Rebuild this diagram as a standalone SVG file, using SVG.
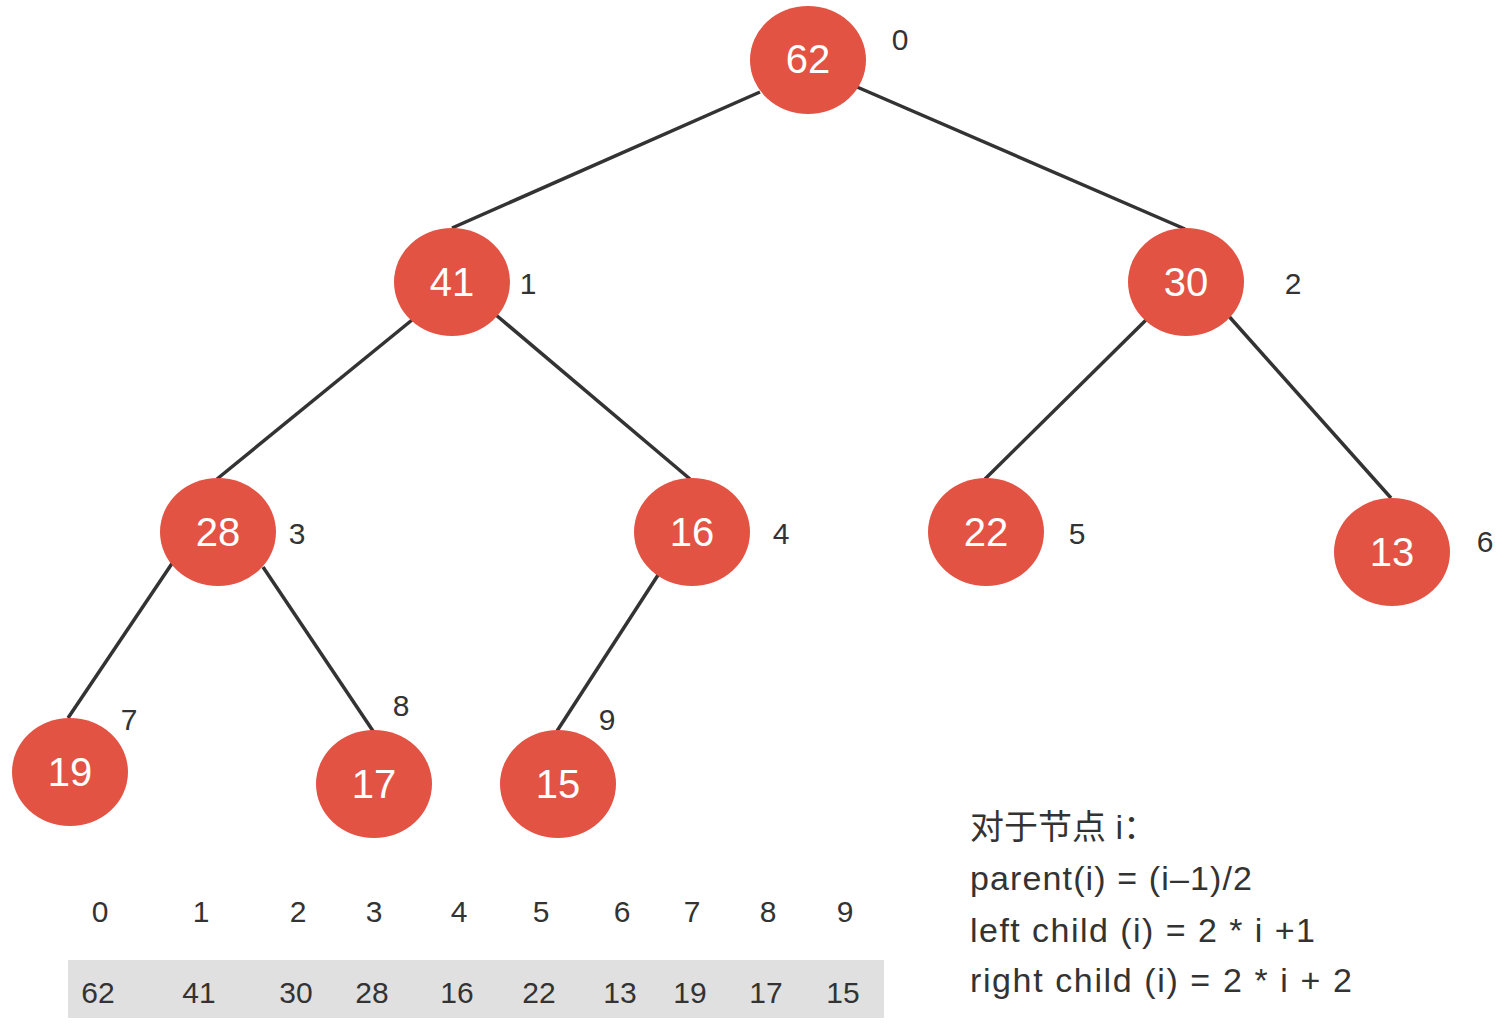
<svg xmlns="http://www.w3.org/2000/svg" width="1512" height="1024" viewBox="0 0 1512 1024">
<style>
.node ellipse{fill:#e25343}
.node text{fill:#fff;font-family:"Liberation Sans","Noto Sans",sans-serif;font-size:40px;text-anchor:middle}
.idx{fill:#333;font-family:"Liberation Sans","Noto Sans",sans-serif;font-size:30px;text-anchor:middle}
.edges line{stroke:#333;stroke-width:3.5}
.arr{fill:#333;font-family:"Liberation Sans","Noto Sans",sans-serif;font-size:30px;text-anchor:middle}
.note{fill:#333;font-family:"Liberation Sans","Noto Sans CJK SC",sans-serif;font-size:34px}
</style>
<rect width="1512" height="1024" fill="#fff"/>
<g class="edges">
<line x1="760" y1="92" x2="452" y2="228"/>
<line x1="857" y1="87" x2="1185" y2="229"/>
<line x1="412" y1="320" x2="217" y2="479"/>
<line x1="496" y1="315" x2="690" y2="479"/>
<line x1="1146" y1="320" x2="985" y2="479"/>
<line x1="1226" y1="313" x2="1391" y2="498"/>
<line x1="173" y1="562" x2="68" y2="718"/>
<line x1="263" y1="567" x2="373" y2="731"/>
<line x1="660" y1="572" x2="557" y2="731"/>
</g>
<g id="n0" class="node"><ellipse cx="808" cy="60" rx="58" ry="54"/><text x="808" y="73">62</text></g>
<g id="n1" class="node"><ellipse cx="452" cy="282" rx="58" ry="54"/><text x="452" y="296">41</text></g>
<g id="n2" class="node"><ellipse cx="1186" cy="282" rx="58" ry="54"/><text x="1186" y="296">30</text></g>
<g id="n3" class="node"><ellipse cx="218" cy="532" rx="58" ry="54"/><text x="218" y="546">28</text></g>
<g id="n4" class="node"><ellipse cx="692" cy="532" rx="58" ry="54"/><text x="692" y="546">16</text></g>
<g id="n5" class="node"><ellipse cx="986" cy="532" rx="58" ry="54"/><text x="986" y="546">22</text></g>
<g id="n6" class="node"><ellipse cx="1392" cy="552" rx="58" ry="54"/><text x="1392" y="566">13</text></g>
<g id="n7" class="node"><ellipse cx="70" cy="772" rx="58" ry="54"/><text x="70" y="786">19</text></g>
<g id="n8" class="node"><ellipse cx="374" cy="784" rx="58" ry="54"/><text x="374" y="798">17</text></g>
<g id="n9" class="node"><ellipse cx="558" cy="784" rx="58" ry="54"/><text x="558" y="798">15</text></g>
<g id="labels">
<text class="idx" x="900" y="50">0</text>
<text class="idx" x="528" y="294">1</text>
<text class="idx" x="1293" y="294">2</text>
<text class="idx" x="297" y="544">3</text>
<text class="idx" x="781" y="544">4</text>
<text class="idx" x="1077" y="544">5</text>
<text class="idx" x="1485" y="552">6</text>
<text class="idx" x="129" y="730">7</text>
<text class="idx" x="401" y="716">8</text>
<text class="idx" x="607" y="730">9</text>
</g>
<g id="array">
<rect x="68" y="960" width="816" height="58" fill="#e0e0e0"/>
<text class="arr" x="100" y="922">0</text>
<text class="arr" x="201" y="922">1</text>
<text class="arr" x="298" y="922">2</text>
<text class="arr" x="374" y="922">3</text>
<text class="arr" x="459" y="922">4</text>
<text class="arr" x="541" y="922">5</text>
<text class="arr" x="622" y="922">6</text>
<text class="arr" x="692" y="922">7</text>
<text class="arr" x="768" y="922">8</text>
<text class="arr" x="845" y="922">9</text>
<text class="arr" x="98" y="1003">62</text>
<text class="arr" x="199" y="1003">41</text>
<text class="arr" x="296" y="1003">30</text>
<text class="arr" x="372" y="1003">28</text>
<text class="arr" x="457" y="1003">16</text>
<text class="arr" x="539" y="1003">22</text>
<text class="arr" x="620" y="1003">13</text>
<text class="arr" x="690" y="1003">19</text>
<text class="arr" x="766" y="1003">17</text>
<text class="arr" x="843" y="1003">15</text>
</g>
<g id="note">
<text class="note" x="970" y="839">对于节点 i：</text>
<text class="note" x="970" y="890" textLength="282" lengthAdjust="spacing">parent(i) = (i–1)/2</text>
<text class="note" x="970" y="942" textLength="345" lengthAdjust="spacing">left child (i) = 2 * i +1</text>
<text class="note" x="970" y="992" textLength="382" lengthAdjust="spacing">right child (i) = 2 * i + 2</text>
</g>
</svg>
